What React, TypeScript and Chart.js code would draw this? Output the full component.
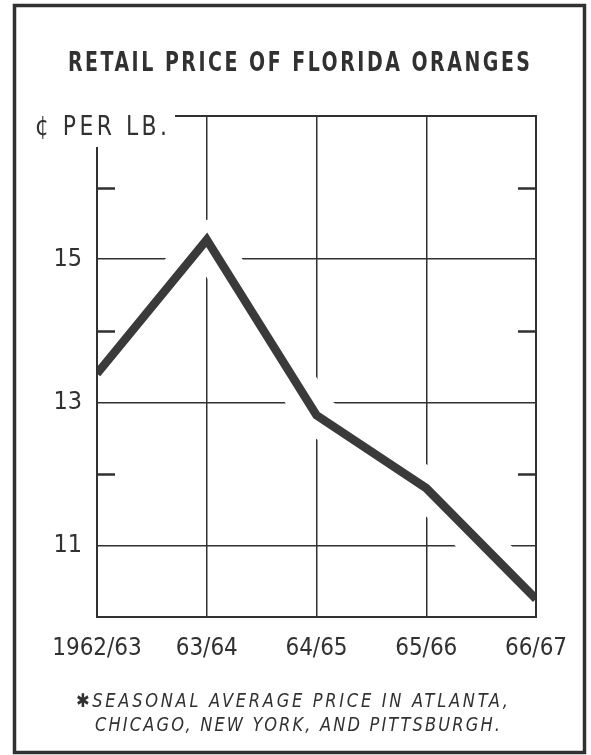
import React, { useEffect, useRef } from 'react';
import { Chart, registerables } from 'chart.js';

Chart.register(...registerables);

// ---- data ----
const categories: string[] = ['1962/63', '63/64', '64/65', '65/66', '66/67'];
const pricePerLb: number[] = [13.4, 15.27, 12.82, 11.8, 10.25];
const yMin = 10;
const yMax = 17;
const labeledTicks: number[] = [11, 13, 15];
const minorTicks: number[] = [12, 14, 16];
const titleText = 'RETAIL PRICE OF FLORIDA ORANGES';
const unitText = '¢ PER LB.';
const footnoteLines: string[] = [
  '✱SEASONAL AVERAGE PRICE IN ATLANTA,',
  'CHICAGO, NEW YORK, AND PITTSBURGH.',
];

// ---- style ----
const INK = '#313131';
const LINE = '#3a3a3a';
const COND = '"DejaVu Sans Condensed", "Liberation Sans Narrow", sans-serif';

function fitText(
  ctx: CanvasRenderingContext2D,
  text: string,
  x: number,
  y: number,
  width: number,
  sx = 1
) {
  ctx.save();
  (ctx as any).letterSpacing = '0px';
  ctx.textAlign = 'left';
  ctx.textBaseline = 'alphabetic';
  const w = ctx.measureText(text).width;
  const n = Array.from(text).length;
  const sp = (width - w * sx) / Math.max(1, n - 1);
  ctx.translate(x, y);
  ctx.scale(sx, 1);
  (ctx as any).letterSpacing = sp / sx + 'px';
  ctx.fillText(text, 0, 0);
  ctx.restore();
}

const framePlugin = {
  id: 'orangeFrame',
  afterDraw(chart: any) {
    const { ctx, chartArea: a, scales } = chart;
    const ys = scales.y;
    ctx.save();
    // outer border
    ctx.strokeStyle = INK;
    ctx.lineWidth = 3.5;
    ctx.strokeRect(14.5, 5.5, 570, 747);

    // title
    ctx.fillStyle = INK;
    ctx.font = 'bold 27px ' + COND;
    fitText(ctx, titleText, 68, 71, 462, 0.78);

    // unit label
    ctx.font = '27px ' + COND;
    fitText(ctx, unitText, 35, 135, 132, 0.9);

    // footnote
    ctx.font = 'italic 19px ' + COND;
    fitText(ctx, footnoteLines[0], 76, 707, 432, 0.95);
    fitText(ctx, footnoteLines[1], 95, 731, 405, 0.95);

    // plot frame
    ctx.lineWidth = 2;
    ctx.strokeStyle = INK;
    ctx.beginPath();
    ctx.moveTo(175, a.top);
    ctx.lineTo(a.right, a.top);
    ctx.lineTo(a.right, a.bottom);
    ctx.lineTo(a.left, a.bottom);
    ctx.lineTo(a.left, 147);
    ctx.stroke();

    // minor ticks
    ctx.lineWidth = 2.5;
    ctx.beginPath();
    for (const v of minorTicks) {
      const py = Math.round(ys.getPixelForValue(v)) + 0.5;
      ctx.moveTo(a.left, py);
      ctx.lineTo(a.left + 18, py);
      ctx.moveTo(a.right - 18, py);
      ctx.lineTo(a.right, py);
    }
    ctx.stroke();
    ctx.restore();
  },
};

export default function App() {
  const ref = useRef<HTMLCanvasElement | null>(null);
  useEffect(() => {
    if (!ref.current) return;
    const chart = new Chart(ref.current, {
      type: 'line',
      data: {
        labels: categories,
        datasets: [
          {
            label: 'Price',
            data: pricePerLb,
            borderColor: LINE,
            borderWidth: 8.5,
            pointRadius: 0,
            tension: 0,
            borderJoinStyle: 'miter',
            borderCapStyle: 'butt',
            clip: 0,
            order: 1,
          },
          {
            label: 'halo',
            data: pricePerLb,
            borderColor: '#ffffff',
            borderWidth: 40,
            pointRadius: 0,
            tension: 0,
            borderJoinStyle: 'round',
            clip: 0,
            order: 2,
          },
        ],
      },
      options: {
        responsive: false,
        devicePixelRatio: 1,
        animation: false,
        events: [],
        layout: { padding: { top: 116, left: 0, right: 55, bottom: 88 } },
        plugins: {
          legend: { display: false },
          tooltip: { enabled: false },
          title: { display: false },
        },
        scales: {
          x: {
            type: 'category',
            offset: false,
            border: { display: false },
            grid: {
              drawTicks: false,
              lineWidth: 1.5,
              color: (c: any) =>
                c.index > 0 && c.index < categories.length - 1 ? INK : 'transparent',
            },
            ticks: {
              color: INK,
              font: { family: COND, size: 24 },
              padding: 17,
              maxRotation: 0,
              autoSkip: false,
            },
            afterFit: (s: any) => {
              s.height = 50;
            },
          },
          y: {
            min: yMin,
            max: yMax,
            border: { display: false },
            grid: {
              drawTicks: false,
              lineWidth: 1.5,
              color: (c: any) =>
                c.tick && labeledTicks.includes(c.tick.value) ? INK : 'transparent',
            },
            ticks: {
              stepSize: 1,
              color: INK,
              font: { family: COND, size: 25 },
              padding: 15,
              callback: (v: any) => (labeledTicks.includes(Number(v)) ? String(v) : ''),
            },
            afterFit: (s: any) => {
              s.width = 97;
            },
          },
        },
      } as any,
      plugins: [framePlugin],
    });
    return () => chart.destroy();
  }, []);
  return (
    <canvas
      ref={ref}
      width={591}
      height={755}
      style={{ position: 'absolute', left: 0, top: 0, display: 'block', background: '#fff' }}
    />
  );
}
